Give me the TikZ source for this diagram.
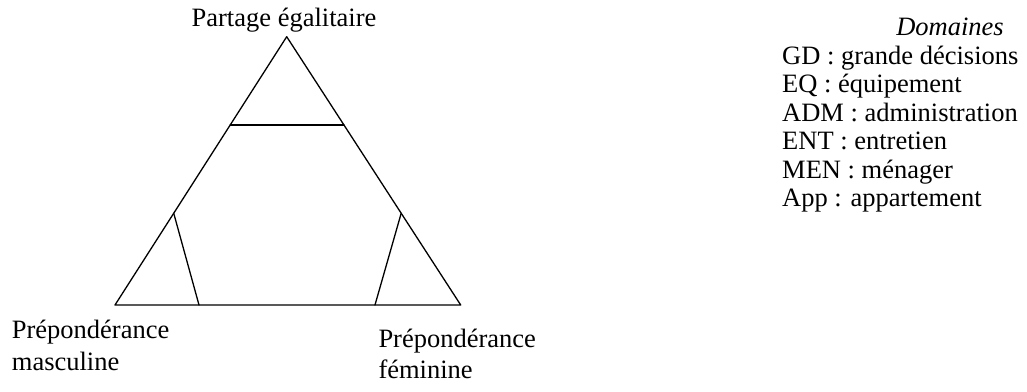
\documentclass[tikz,border=0pt]{standalone}
\usepackage{fontspec}
\setmainfont{Liberation Serif}
\usetikzlibrary{calc}
\begin{document}
\begin{tikzpicture}[x=1pt,y=1pt,
  edge/.style={line width=1.3pt, line cap=round, line join=round},
  lab/.style={inner sep=0pt, font=\fontsize{26.5}{26.5}\selectfont}]
\useasboundingbox (0,0) rectangle (1027,-391);
% triangle
\coordinate (A) at (286.7,-36.7);
\coordinate (L) at (115,-305);
\coordinate (R) at (460.7,-305);
\coordinate (h1) at ($(A)!0.329!(L)$);
\coordinate (h2) at ($(A)!0.329!(R)$);
\coordinate (m1) at ($(A)!0.658!(L)$);
\coordinate (m2) at ($(L)!0.243!(R)$);
\coordinate (f1) at ($(A)!0.658!(R)$);
\coordinate (f2) at ($(L)!0.752!(R)$);
\draw[edge] (A) -- (L) -- (R) -- cycle;
\draw[edge] (h1) -- (h2);
\draw[edge] (m1) -- (m2);
\draw[edge] (f1) -- (f2);
% labels
\node[lab, anchor=base] (top) at (284,-26) {Partage égalitaire};
\node[lab, anchor=base west] (pm1) at (11.7,-338) {Prépondérance};
\node[lab, anchor=base west] (pm2) at (11.7,-370) {masculine};
\node[lab, anchor=base west] (pf1) at (378.3,-347) {Prépondérance};
\node[lab, anchor=base west] (pf2) at (378.3,-378) {féminine};
% legend
\node[lab, anchor=base, font=\fontsize{26.5}{26.5}\selectfont\itshape] (dom) at (950,-35) {Domaines};
\foreach \t [count=\i] in {GD : grande décisions, EQ : équipement, ADM : administration, ENT : entretien, MEN : ménager, App : appartement}
  \node[lab, anchor=base west] (d\i) at (782,-35.5-28.5*\i) {\t};
\end{tikzpicture}
\end{document}
